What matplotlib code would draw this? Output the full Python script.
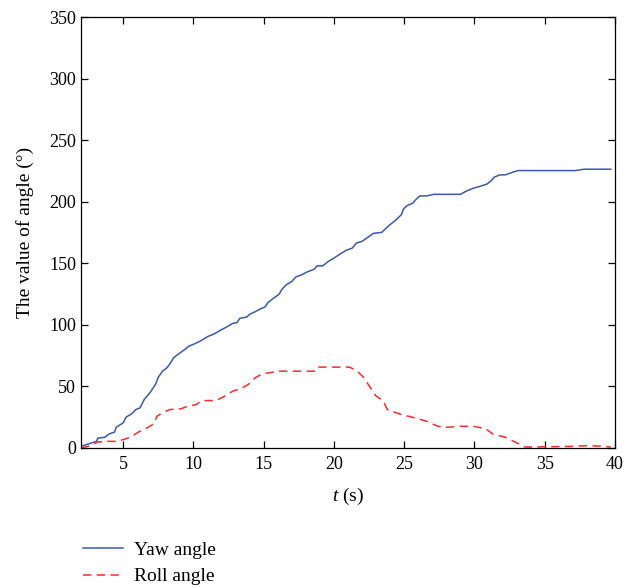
import matplotlib
matplotlib.use("Agg")
import matplotlib.pyplot as plt
from matplotlib.lines import Line2D

plt.rcParams['font.family'] = ['Liberation Serif', 'DejaVu Serif']
plt.rcParams['mathtext.fontset'] = 'custom'
plt.rcParams['mathtext.it'] = 'Liberation Serif:italic'
plt.rcParams['mathtext.rm'] = 'Liberation Serif'

yaw_t = [2.0, 3.1, 3.2, 3.7, 4.0, 4.4, 4.5, 5.0, 5.2, 5.6, 5.9, 6.2, 6.5, 6.9, 7.3, 7.5, 7.8, 8.1,
         8.3, 8.6, 8.8, 9.3, 9.7, 10.1, 10.5, 11.0, 11.5, 11.9, 12.4, 12.8, 13.1, 13.3, 13.8, 14.0,
         14.4, 14.8, 15.1, 15.3, 15.7, 16.1, 16.3, 16.6, 17.0, 17.3, 17.7, 18.0, 18.6, 18.8, 19.2,
         19.6, 20.0, 20.5, 20.9, 21.3, 21.6, 22.0, 22.4, 22.8, 23.4, 23.9, 24.4, 24.8, 24.95, 25.2,
         25.6, 25.8, 26.1, 26.6, 27.1, 29.0, 29.4, 29.9, 30.4, 30.9, 31.2, 31.4, 31.8, 32.2, 32.7,
         33.1, 37.2, 37.8, 39.7]
yaw_v = [1.4, 5.4, 8.0, 8.7, 11.4, 13.0, 16.8, 20.4, 25.0, 27.7, 31.2, 32.6, 39.4, 44.8, 51.6, 57.5,
         62.4, 65.0, 67.9, 73.3, 75.2, 79.3, 82.8, 84.7, 86.9, 90.4, 92.8, 95.5, 98.5, 101.2, 101.8,
         105.3, 106.4, 108.6, 110.7, 113.2, 114.5, 118.1, 121.6, 124.9, 128.9, 132.5, 135.2, 139.0,
         140.6, 142.5, 145.2, 147.9, 147.9, 151.5, 154.2, 158.0, 160.7, 162.3, 166.4, 167.8, 171.0,
         174.3, 175.1, 180.5, 185.1, 189.5, 194.1, 196.8, 198.7, 201.4, 204.7, 204.7, 206.0, 206.0,
         208.5, 210.9, 212.5, 214.4, 217.2, 219.9, 221.8, 221.8, 223.9, 225.3, 225.3, 226.4, 226.4]

roll_t = [2.0, 2.5, 3.2, 3.9, 4.5, 5.0, 5.5, 6.1, 6.7, 7.2, 7.4, 7.8, 8.3, 9.1, 9.6, 10.2, 10.6,
          11.6, 12.1, 12.8, 13.4, 13.9, 14.4, 14.9, 15.4, 16.1, 18.7, 18.9, 21.1, 21.6, 22.1, 22.6,
          23.0, 23.5, 23.8, 24.8, 25.8, 26.6, 27.4, 28.1, 28.9, 29.9, 30.8, 31.3, 32.2, 32.8, 33.6,
          34.2, 37.2, 37.9, 38.8, 39.7]
roll_v = [0.0, 1.4, 4.9, 5.4, 5.4, 6.8, 8.7, 13.0, 16.3, 19.8, 25.8, 28.5, 31.2, 31.8, 33.9, 35.3,
          38.5, 38.5, 41.3, 46.1, 48.3, 51.6, 57.0, 60.3, 61.1, 62.4, 62.4, 65.7, 65.7, 63.0, 57.5,
          48.9, 42.1, 38.5, 31.2, 27.1, 24.4, 21.7, 17.6, 16.8, 17.6, 17.6, 15.7, 11.4, 8.7, 5.4,
          0.8, 0.8, 1.4, 1.9, 1.6, 0.8]

x_ticks = [5, 10, 15, 20, 25, 30, 35, 40]
y_ticks = [0, 50, 100, 150, 200, 250, 300, 350]

fig = plt.figure(figsize=(6.35, 5.88), dpi=100)
ax = fig.add_axes([81/635, 1-448/588, (615-81)/635, (448-17)/588])

blue = '#3a5aae'
red = '#ff2a2a'
ax.plot(yaw_t, yaw_v, color=blue, lw=1.1)
ax.plot(roll_t, roll_v, color=red, lw=1.1, dashes=(5.5, 3.5))

ax.set_xlim(2, 40)
ax.set_ylim(0, 350)
ax.set_xticks(x_ticks)
ax.set_yticks(y_ticks)
ax.tick_params(direction='in', top=True, right=True, labelsize=13, length=5, width=0.9)
ax.tick_params(axis='x', pad=6)
for s in ax.spines.values():
    s.set_linewidth(0.9)

ax.set_xlabel(r'$t$ (s)', fontsize=14, labelpad=9)
ax.set_ylabel('The value of angle (°)', fontsize=14, labelpad=11)

handles = [Line2D([], [], color=blue, lw=1.1),
           Line2D([], [], color=red, lw=1.1, dashes=(5.5, 3.5))]
fig.legend(handles, ['Yaw angle', 'Roll angle'], loc='upper left',
           bbox_to_anchor=(65/635, 1-524/588), frameon=False, fontsize=14,
           handlelength=2.1, handletextpad=0.55, labelspacing=0.45)

fig.savefig('out.png', dpi=100)
